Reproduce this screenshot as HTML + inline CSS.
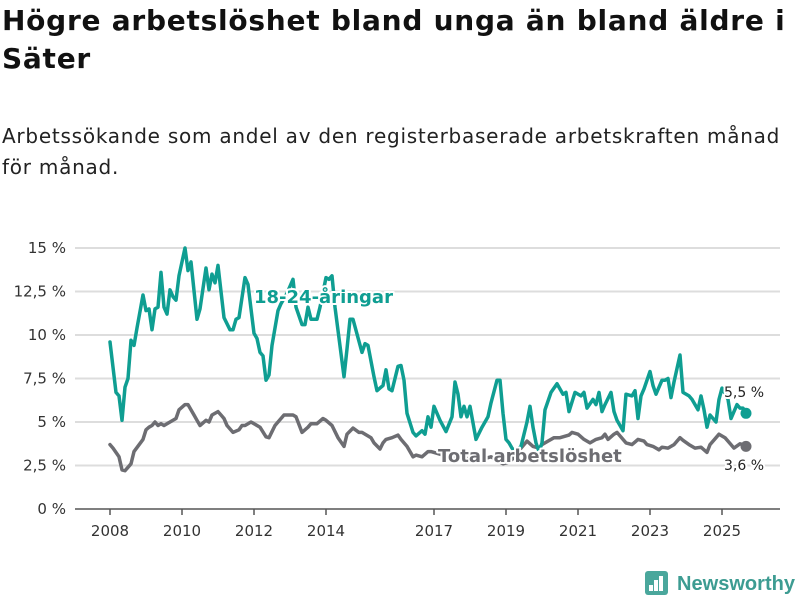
<!DOCTYPE html>
<html><head><meta charset="utf-8"><style>
body{margin:0;background:#fff;font-family:"Liberation Sans","DejaVu Sans",sans-serif;}
#wrap{position:relative;width:800px;height:600px;overflow:hidden;}
h1{position:absolute;left:2px;top:2px;margin:0;font-family:"DejaVu Sans",sans-serif;font-size:28px;line-height:38px;font-weight:bold;color:#111;letter-spacing:0.75px;white-space:nowrap;}
.sub{position:absolute;left:2px;top:121px;font-family:"DejaVu Sans",sans-serif;font-size:20px;line-height:31px;color:#222;letter-spacing:0.75px;white-space:nowrap;}
svg{position:absolute;left:0;top:0;}
</style></head><body>
<div id="wrap">
<h1>Högre arbetslöshet bland unga än bland äldre i<br>Säter</h1>
<div class="sub">Arbetssökande som andel av den registerbaserade arbetskraften månad<br>för månad.</div>
<svg id="c" width="800" height="600"></svg>
</div>
<script>
const yTicks=[0,2.5,5,7.5,10,12.5,15];
const yTickLabels=["0 %","2,5 %","5 %","7,5 %","10 %","12,5 %","15 %"];
const xTicks=[2008,2010,2012,2014,2017,2019,2021,2023,2025];
const youthMonths=[0,2,3,4,5,6,7,8,9,11,12,13,14,15,16,17,18,19,20,21,22,23,25,26,27,29,30,32,33,34,35,36,38,40,41,42,43,45,46,48,49,50,51,52,53,54,56,57,59,60,61,62,64,65,66,67,69,70,72,73,74,75,78,79,80,81,84,85,86,88,89,91,92,93,94,96,97,98,99,101,102,104,105,106,107,108,110,112,114,115,116,117,118,119,120,122,124,126,127,129,130,131,132,133,134,135,137,139,140,141,142,143,144,145,147,149,151,152,153,155,157,158,159,161,162,163,164,165,167,168,169,171,172,174,175,176,177,178,180,181,182,184,185,186,187,188,190,191,193,194,196,197,198,199,200,202,203,204,206,207,209,210,211,212];
const youthValues=[9.6,6.7,6.5,5.1,7.0,7.5,9.7,9.4,10.4,12.3,11.4,11.5,10.3,11.5,11.6,13.6,11.6,11.2,12.6,12.2,12.0,13.4,15.0,13.7,14.2,10.9,11.5,13.85,12.6,13.5,13.0,14.0,11.0,10.3,10.3,10.9,11.0,13.3,12.9,10.1,9.8,9.0,8.8,7.4,7.7,9.4,11.4,11.8,12.4,12.8,13.2,11.6,10.6,10.6,11.6,10.9,10.9,11.6,13.3,13.2,13.4,11.6,7.6,9.2,10.9,10.9,9.0,9.5,9.4,7.6,6.8,7.1,8.0,6.9,6.8,8.2,8.25,7.4,5.5,4.4,4.2,4.5,4.3,5.3,4.7,5.9,5.1,4.45,5.3,7.3,6.6,5.3,5.9,5.3,5.9,4.0,4.7,5.3,6.1,7.4,7.4,5.5,4.0,3.8,3.5,3.3,3.6,5.0,5.9,4.7,3.8,3.3,3.8,5.7,6.7,7.2,6.6,6.7,5.6,6.7,6.5,6.7,5.8,6.3,6.0,6.7,5.6,6.0,6.7,5.6,5.1,4.5,6.6,6.5,6.8,5.2,6.5,6.9,7.9,7.1,6.6,7.4,7.4,7.5,6.4,7.3,8.85,6.7,6.5,6.3,5.7,6.5,5.7,4.7,5.4,5.0,6.3,6.95,6.3,5.2,6.0,5.8,5.8,5.5];
const totalMonths=[0,1,3,4,5,7,8,11,12,13,14,15,16,17,18,20,22,23,25,26,28,29,30,32,33,34,36,37,38,39,41,43,44,45,47,48,50,52,53,55,57,58,59,61,62,64,66,67,69,71,72,74,76,78,79,81,83,84,87,88,90,91,92,94,96,97,99,101,102,104,106,107,109,111,113,115,117,119,121,123,125,127,129,131,133,135,137,139,141,143,144,146,148,150,153,154,156,158,160,162,164,165,166,168,169,171,172,174,176,178,179,181,183,184,186,188,190,191,193,195,197,199,200,202,203,205,207,208,210,211,212];
const totalValues=[3.7,3.5,3.0,2.25,2.2,2.6,3.3,4.0,4.55,4.7,4.8,5.0,4.8,4.9,4.8,5.0,5.2,5.7,6.0,6.0,5.4,5.1,4.8,5.1,5.0,5.4,5.6,5.4,5.2,4.8,4.4,4.55,4.8,4.8,5.0,4.9,4.7,4.15,4.1,4.8,5.2,5.4,5.4,5.4,5.3,4.4,4.7,4.9,4.9,5.2,5.1,4.8,4.1,3.6,4.3,4.65,4.4,4.4,4.1,3.8,3.45,3.8,4.0,4.1,4.25,4.0,3.6,3.0,3.1,3.0,3.3,3.3,3.2,3.1,3.3,3.0,3.1,2.9,2.8,2.7,2.9,3.0,2.8,2.6,2.7,3.0,3.5,3.9,3.6,3.5,3.7,3.9,4.1,4.1,4.25,4.4,4.3,4.0,3.8,4.0,4.1,4.3,4.0,4.3,4.4,4.0,3.8,3.7,4.0,3.9,3.7,3.6,3.4,3.55,3.5,3.7,4.1,3.95,3.7,3.5,3.55,3.25,3.7,4.1,4.3,4.1,3.7,3.5,3.75,3.7,3.6];

const NS='http://www.w3.org/2000/svg';
const svg=document.getElementById('c');
const yScale=v=>509-v*17.4;
const xYear=y=>110+(y-2008)*36;
const xMonth=m=>110+m*3;
function mk(tag,attrs,parent){const e=document.createElementNS(NS,tag);for(const k in attrs)e.setAttribute(k,attrs[k]);(parent||svg).appendChild(e);return e;}
yTicks.forEach((t,i)=>{
  const g=mk('line',{x1:75,x2:780,y1:yScale(t),y2:yScale(t),stroke:t===0?'#555':'#ddd','stroke-width':t===0?1.5:2});
  
  
  const tx=mk('text',{x:66,y:yScale(t)+5,'text-anchor':'end','font-size':15,fill:'#333','font-family':'DejaVu Sans,sans-serif'});
  tx.textContent=yTickLabels[i];
  
  
});
xTicks.forEach(y=>{
  const l=mk('line',{x1:xYear(y),x2:xYear(y),y1:509,y2:515,stroke:'#555','stroke-width':1.5});
  
  
  const tx=mk('text',{x:xYear(y),y:536,'text-anchor':'middle','font-size':15,fill:'#333','font-family':'DejaVu Sans,sans-serif'});
  tx.textContent=y;
  
  
});
function line(months,vals,color,name){
  const d=months.map((m,i)=>(i?'L':'M')+xMonth(m).toFixed(1)+','+yScale(vals[i]).toFixed(1)).join('');
  const p=mk('path',{d:d,fill:'none',stroke:color,'stroke-width':3.5,'stroke-linejoin':'round','stroke-linecap':'round'});
  
  
  const n=months.length-1;
  const c=mk('circle',{cx:xMonth(months[n]),cy:yScale(vals[n]),r:5.5,fill:color});
  
  
}
line(totalMonths,totalValues,'#6d6d72','total-line');
line(youthMonths,youthValues,'#0f9e92','youth-line');
function lbl(x,y,txt,color,size,weight,name,anchor){
  const t=mk('text',{x:x,y:y,'font-size':size,'font-weight':weight,fill:color,stroke:'#fff','stroke-width':4,'paint-order':'stroke','stroke-linejoin':'round','font-family':'DejaVu Sans,sans-serif','text-anchor':anchor||'start'});
  t.textContent=txt;
  
  
}
lbl(254,303,'18-24-åringar','#0f9e92',18,'bold','youth-series-label');
lbl(438,462,'Total arbetslöshet','#6d6d72',18,'bold','total-series-label');
lbl(724,397,'5,5 %','#222',14,'normal','youth-end-value');
lbl(724,470,'3,6 %','#222',14,'normal','total-end-value');
const lg=mk('g',{});


mk('rect',{x:645,y:571,width:23,height:24,rx:3,fill:'#4aa79c'},lg);
[[649,585,4,6],[654,580,4,11],[659,576,4,15]].forEach(r=>mk('rect',{x:r[0],y:r[1],width:r[2],height:r[3],fill:'#fff'},lg));
const lt=mk('text',{x:677,y:590,'font-size':20,'font-weight':'bold',fill:'#3d9c92','font-family':'Liberation Sans,sans-serif',textLength:118,lengthAdjust:'spacingAndGlyphs'},lg);
lt.textContent='Newsworthy';
</script>
</body></html>
